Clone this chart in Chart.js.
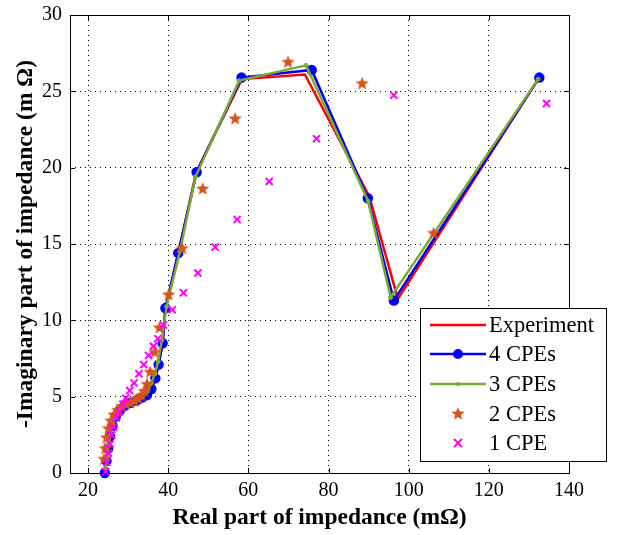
<!DOCTYPE html>
<html>
<head>
<meta charset="utf-8">
<script src="https://cdn.jsdelivr.net/npm/chart.js@4/dist/chart.umd.min.js"></script>
<style>
  body { margin: 0; background: #fff; }
  #wrap { width: 617px; height: 535px; }
</style>
</head>
<body>
<div id="wrap"><canvas id="chart" width="617" height="535"></canvas></div>
<script>
// impedance data, m-ohm
const expX = [24.2, 24.5, 24.9, 25.4, 26.0, 26.8, 27.8, 29.0, 30.5, 32.0, 33.4, 34.6, 35.7, 36.8, 37.6, 38.6, 39.3, 42.6, 47.0, 58.4, 74.1, 90.2, 97.3, 132.3];
const expY = [0.0, 0.8, 1.6, 2.4, 3.1, 3.7, 4.1, 4.4, 4.6, 4.75, 4.95, 5.1, 5.5, 6.2, 7.1, 8.5, 10.7, 14.5, 19.7, 25.8, 26.1, 18.1, 11.4, 25.8];

const cpe4X = [24.2, 24.6, 25.0, 25.5, 26.1, 26.9, 27.9, 29.1, 30.6, 32.1, 33.5, 34.7, 35.8, 36.8, 37.6, 38.6, 39.3, 42.5, 47.1, 58.3, 75.8, 89.8, 96.3, 132.6];
const cpe4Y = [0.0, 0.8, 1.6, 2.4, 3.1, 3.7, 4.1, 4.4, 4.6, 4.75, 4.95, 5.1, 5.5, 6.2, 7.1, 8.5, 10.8, 14.4, 19.7, 25.9, 26.4, 18.0, 11.3, 25.9];

const cpe3X = [24.4, 24.7, 25.1, 25.6, 26.2, 27.0, 28.0, 29.2, 30.7, 32.2, 33.6, 34.8, 35.8, 36.7, 37.5, 38.4, 39.6, 42.9, 46.8, 57.7, 74.4, 89.9, 95.5, 132.3];
const cpe3Y = [0.3, 1.0, 1.8, 2.5, 3.2, 3.8, 4.2, 4.45, 4.65, 4.8, 5.0, 5.35, 5.9, 6.5, 7.3, 8.7, 10.9, 14.5, 19.4, 25.7, 26.7, 17.8, 11.5, 25.8];

const cpe2X = [24.0, 24.3, 24.6, 25.1, 25.7, 26.5, 27.4, 28.4, 29.5, 30.6, 31.6, 32.5, 33.3, 34.0, 34.7, 35.5, 36.6, 37.8, 40.1, 43.5, 48.6, 56.7, 69.9, 88.4, 106.2];
const cpe2Y = [0.9, 1.6, 2.3, 2.9, 3.4, 3.8, 4.1, 4.35, 4.5, 4.6, 4.7, 4.85, 5.05, 5.35, 5.8, 6.6, 7.9, 9.5, 11.66, 14.7, 18.6, 23.2, 26.9, 25.5, 15.7];

const cpe1X = [24.4, 24.7, 25.1, 25.5, 25.9, 26.4, 27.1, 27.9, 28.7, 29.4, 30.4, 31.5, 32.7, 33.9, 35.1, 36.3, 37.4, 38.8, 41.0, 43.8, 47.4, 51.7, 57.2, 65.2, 77.0, 96.3, 134.4];
const cpe1Y = [0.1, 0.7, 1.3, 1.9, 2.5, 3.0, 3.6, 4.0, 4.5, 4.9, 5.4, 5.9, 6.5, 7.1, 7.7, 8.3, 8.8, 9.7, 10.7, 11.8, 13.1, 14.8, 16.6, 19.1, 21.9, 24.75, 24.2];

const xTicks = [20, 40, 60, 80, 100, 120, 140];
const yTicks = [0, 5, 10, 15, 20, 25, 30];
const seriesNames = ['Experiment', '4 CPEs', '3 CPEs', '2 CPEs', '1 CPE'];

const FONT = "'Liberation Serif', 'Times New Roman', serif";

const pts = (xs, ys) => xs.map((x, i) => ({ x: x, y: ys[i] }));

// filled pentagram, matlab 'p' marker
function makeStar(color, r) {
  const c = document.createElement('canvas');
  const s = Math.ceil(r * 2 + 2);
  c.width = s; c.height = s;
  const g = c.getContext('2d');
  g.fillStyle = color;
  g.beginPath();
  for (let i = 0; i < 10; i++) {
    const rr = i % 2 === 0 ? r : r * 0.42;
    const a = -Math.PI / 2 + i * Math.PI / 5;
    const px = s / 2 + rr * Math.cos(a), py = s / 2 + rr * Math.sin(a);
    if (i === 0) g.moveTo(px, py); else g.lineTo(px, py);
  }
  g.closePath();
  g.fill();
  return c;
}
const star = makeStar('#D95319', 7);

const datasets = [
  { label: seriesNames[0], data: pts(expX, expY), showLine: true, borderColor: '#FF0000', borderWidth: 2.5,
    pointRadius: 0, order: 5 },
  { label: seriesNames[1], data: pts(cpe4X, cpe4Y), showLine: true, borderColor: '#0000FF', backgroundColor: '#0000FF',
    borderWidth: 2.5, pointRadius: 4.5, pointBorderWidth: 1.5, order: 4 },
  { label: seriesNames[2], data: pts(cpe3X, cpe3Y), showLine: true, borderColor: '#77AC30', backgroundColor: '#77AC30',
    borderWidth: 2.5, pointRadius: 2, pointBorderWidth: 1, order: 3 },
  { label: seriesNames[3], data: pts(cpe2X, cpe2Y), showLine: false, pointStyle: star, pointRadius: 7, order: 2 },
  { label: seriesNames[4], data: pts(cpe1X, cpe1Y), showLine: false, pointStyle: 'crossRot', borderColor: '#FF00FF',
    pointRadius: 5, pointBorderWidth: 2, order: 1 }
];
datasets.forEach(d => { d.clip = false; d.tension = 0; });

// box, inward ticks and the legend box
const matlabBox = {
  id: 'matlabBox',
  afterDraw(chart) {
    const { ctx, chartArea: a, scales } = chart;
    ctx.save();
    ctx.strokeStyle = '#000';
    ctx.lineWidth = 1;
    ctx.strokeRect(Math.round(a.left) + 0.5, Math.round(a.top) + 0.5,
      Math.round(a.right - a.left), Math.round(a.bottom - a.top));
    ctx.beginPath();
    xTicks.forEach(v => {
      const x = Math.round(scales.x.getPixelForValue(v)) + 0.5;
      ctx.moveTo(x, a.bottom); ctx.lineTo(x, a.bottom - 5);
      ctx.moveTo(x, a.top); ctx.lineTo(x, a.top + 5);
    });
    yTicks.forEach(v => {
      const y = Math.round(scales.y.getPixelForValue(v)) + 0.5;
      ctx.moveTo(a.left, y); ctx.lineTo(a.left + 5, y);
      ctx.moveTo(a.right, y); ctx.lineTo(a.right - 5, y);
    });
    ctx.stroke();

    // legend
    const lx = 420, ly = 308, lw = 186, lh = 153;
    ctx.fillStyle = '#fff';
    ctx.fillRect(lx, ly, lw, lh);
    ctx.strokeRect(lx + 0.5, ly + 0.5, lw, lh);
    const rows = [325, 354, 384, 414, 443];
    ctx.font = '22.5px ' + FONT;
    ctx.textBaseline = 'middle';
    ctx.textAlign = 'left';
    datasets.forEach((d, i) => {
      const y = rows[i];
      const mx = 458;
      if (d.showLine) {
        ctx.strokeStyle = d.borderColor;
        ctx.lineWidth = 2.5;
        ctx.beginPath(); ctx.moveTo(430, y); ctx.lineTo(486, y); ctx.stroke();
      }
      if (i === 1 || i === 2) {
        ctx.fillStyle = d.borderColor;
        ctx.beginPath(); ctx.arc(mx, y, i === 1 ? 5 : 2, 0, Math.PI * 2); ctx.fill();
      } else if (i === 3) {
        ctx.drawImage(star, mx - star.width / 2, y - star.height / 2);
      } else if (i === 4) {
        ctx.strokeStyle = '#FF00FF';
        ctx.lineWidth = 2;
        ctx.beginPath();
        ctx.moveTo(mx - 4, y - 4); ctx.lineTo(mx + 4, y + 4);
        ctx.moveTo(mx + 4, y - 4); ctx.lineTo(mx - 4, y + 4);
        ctx.stroke();
      }
      ctx.fillStyle = '#000';
      ctx.fillText(d.label, 489, y + 1);
    });
    ctx.restore();
  }
};

new Chart(document.getElementById('chart'), {
  type: 'scatter',
  data: { datasets },
  options: {
    responsive: false,
    animation: false,
    devicePixelRatio: 1,
    layout: { padding: { left: 0, right: 48, top: 15, bottom: 0 } },
    plugins: { legend: { display: false }, tooltip: { enabled: false } },
    scales: {
      x: {
        type: 'linear', min: 15.5, max: 140,
        afterBuildTicks: s => { s.ticks = xTicks.map(v => ({ value: v })); },
        afterFit: s => { s.height = 62; s.paddingLeft = 0; s.paddingRight = 0; },
        grid: { color: '#000', lineWidth: 1, drawTicks: false },
        border: { display: false, dash: [1, 4] },
        ticks: { color: '#000', padding: 6, maxRotation: 0, font: { family: FONT, size: 20 } },
        title: { display: true, text: 'Real part of impedance (mΩ)', color: '#000',
          padding: { top: 0, bottom: 3 }, font: { family: FONT, size: 23.5, weight: 'bold' } }
      },
      y: {
        type: 'linear', min: 0, max: 30,
        afterBuildTicks: s => { s.ticks = yTicks.map(v => ({ value: v })); },
        afterFit: s => { s.width = 70; s.paddingTop = 0; s.paddingBottom = 0; },
        grid: { color: '#000', lineWidth: 1, drawTicks: false },
        border: { display: false, dash: [1, 4] },
        ticks: { color: '#000', padding: 8, font: { family: FONT, size: 20 } },
        title: { display: true, text: '-Imaginary part of impedance (m Ω)', color: '#000',
          padding: { top: 12, bottom: 0 }, font: { family: FONT, size: 23.5, weight: 'bold' } }
      }
    }
  },
  plugins: [matlabBox]
});
</script>
</body>
</html>
